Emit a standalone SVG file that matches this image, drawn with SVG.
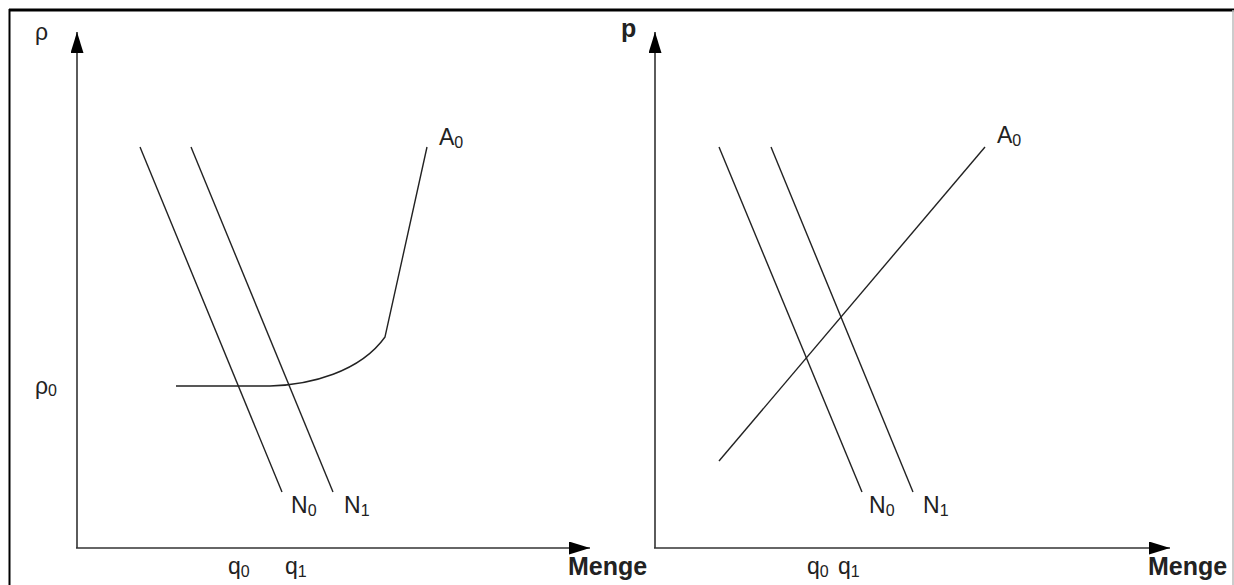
<svg xmlns="http://www.w3.org/2000/svg" width="1234" height="585" viewBox="0 0 1234 585">
<defs>
<marker id="ahb" viewBox="0 0 21 13" refX="21" refY="6.5" markerWidth="21" markerHeight="13" markerUnits="userSpaceOnUse" orient="auto">
<path d="M0,0 L21,6.5 L0,13 z" fill="#000"/>
</marker>
</defs>
<style>
.ax{stroke:#333;stroke-width:1.6;fill:none}
.ln{stroke:#222;stroke-width:1.4;fill:none}
.t{font-family:"Liberation Sans",Arial,sans-serif;font-size:23px;fill:#222}
.s{font-size:16px}
.b{font-family:"Liberation Sans",Arial,sans-serif;font-size:25px;font-weight:bold;fill:#222}
</style>
<rect width="1234" height="585" fill="#fff"/>
<g id="frame">
<line x1="9" y1="10" x2="1234" y2="10" stroke="#000" stroke-width="3"/>
<line x1="9.5" y1="9" x2="9.5" y2="585" stroke="#000" stroke-width="2"/>
<line x1="1233" y1="10" x2="1233" y2="585" stroke="#bbb" stroke-width="1.5"/>
</g>
<g id="connectors">
<line class="ax" x1="77" y1="548" x2="77" y2="32" marker-end="url(#ahb)"/>
<line class="ax" x1="76" y1="548" x2="590" y2="548" marker-end="url(#ahb)"/>
<line class="ax" x1="655" y1="548" x2="655" y2="32" marker-end="url(#ahb)"/>
<line class="ax" x1="654" y1="548" x2="1170" y2="548" marker-end="url(#ahb)"/>
</g>
<g id="left-N0"><line class="ln" x1="140" y1="147" x2="282" y2="492"/></g>
<g id="left-N1"><line class="ln" x1="191" y1="147" x2="333" y2="492"/></g>
<g id="left-A0"><path class="ln" d="M176,386 L270,386 C310,385 360,372 385,337 L427,147"/></g>
<g id="right-N0"><line class="ln" x1="719" y1="147" x2="862" y2="492"/></g>
<g id="right-N1"><line class="ln" x1="771" y1="147" x2="913" y2="492"/></g>
<g id="right-A0"><line class="ln" x1="719" y1="461" x2="985" y2="147"/></g>
<g id="labels">
<text class="t" x="35" y="40">ρ</text>
<text class="t" x="35" y="394">ρ<tspan class="s" dy="2">0</tspan></text>
<text class="t" x="439" y="145">A<tspan class="s" dy="3">0</tspan></text>
<text class="t" x="291" y="513">N<tspan class="s" dy="3">0</tspan></text>
<text class="t" x="344" y="513">N<tspan class="s" dy="3">1</tspan></text>
<text class="t" x="228" y="574">q<tspan class="s" dy="3">0</tspan></text>
<text class="t" x="285" y="574">q<tspan class="s" dy="3">1</tspan></text>
<text class="b" x="568" y="575">Menge</text>
<text class="b" x="621" y="37">p</text>
<text class="t" x="997" y="143">A<tspan class="s" dy="3">0</tspan></text>
<text class="t" x="869" y="513">N<tspan class="s" dy="3">0</tspan></text>
<text class="t" x="923" y="513">N<tspan class="s" dy="3">1</tspan></text>
<text class="t" x="807" y="574">q<tspan class="s" dy="3">0</tspan></text>
<text class="t" x="838" y="574">q<tspan class="s" dy="3">1</tspan></text>
<text class="b" x="1148" y="575">Menge</text>
</g>
</svg>
